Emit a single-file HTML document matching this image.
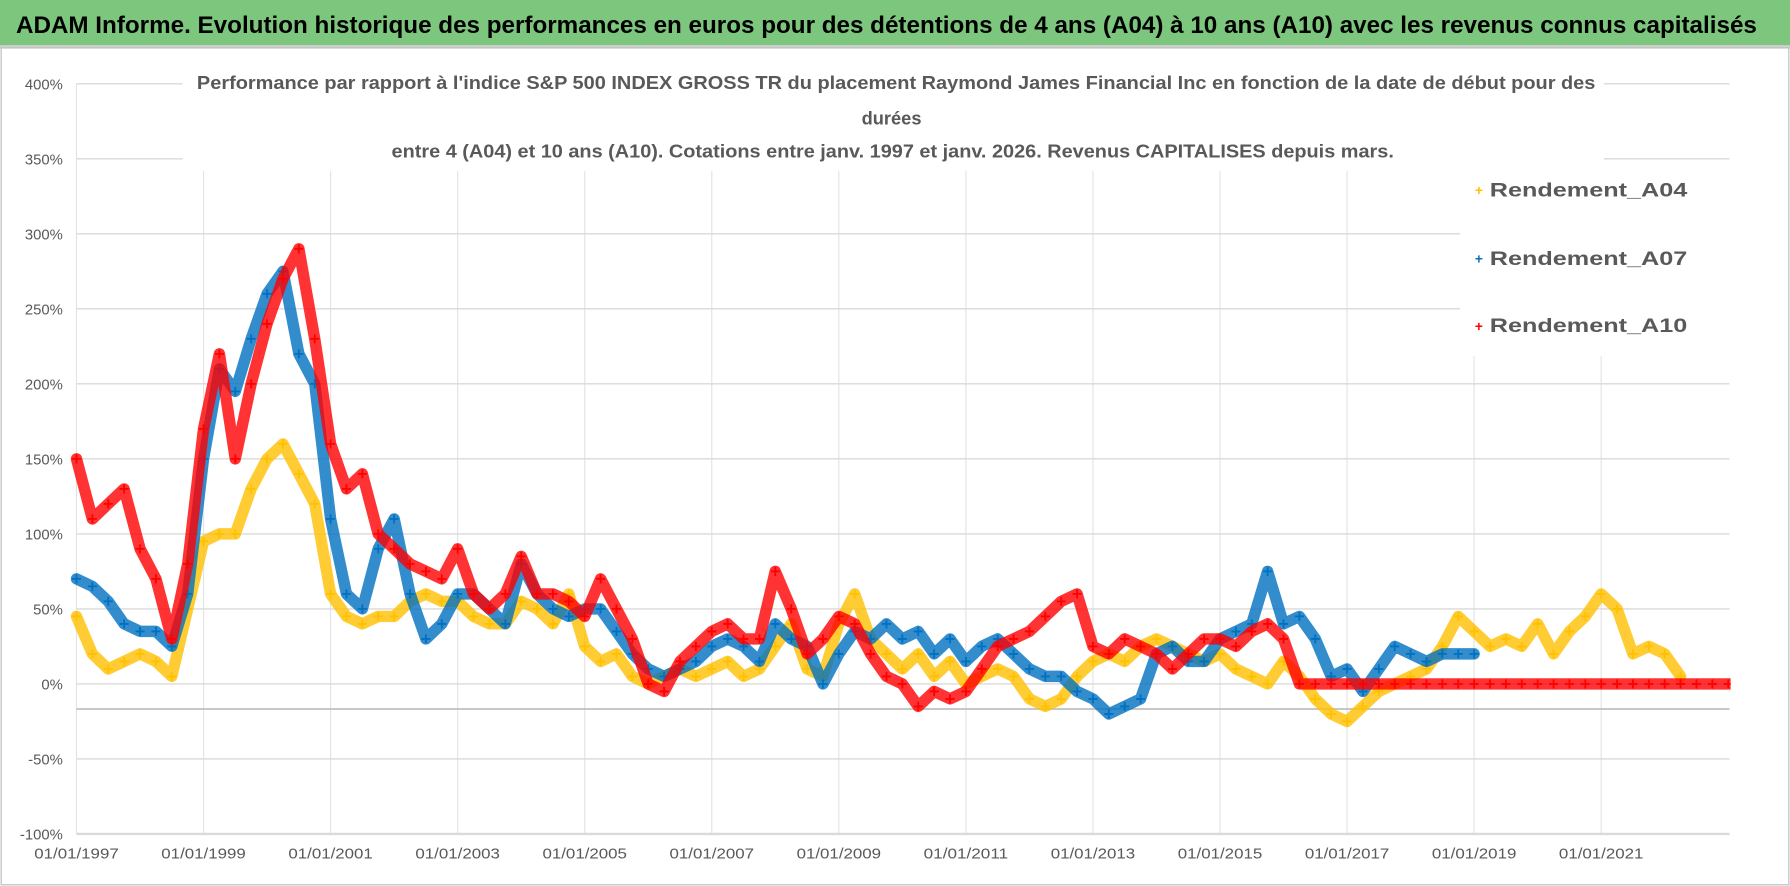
<!DOCTYPE html>
<html><head><meta charset="utf-8">
<style>
html,body{margin:0;padding:0;background:#fff;}
svg{display:block;font-family:"Liberation Sans",sans-serif;}
</style></head>
<body>
<svg id="chart" width="1790" height="886" viewBox="0 0 1568 776" preserveAspectRatio="none" xmlns="http://www.w3.org/2000/svg">
<defs><clipPath id="plotclip"><rect x="55" y="60" width="1461" height="680"/></clipPath></defs>
<rect x="0" y="0" width="1568" height="776" fill="#fff"/>
<rect x="0" y="0" width="1568" height="40" fill="#7dc67e"/>
<line x1="0" y1="41" x2="1568" y2="41" stroke="#d0d0d0" stroke-width="3"/>
<text x="14" y="29" font-size="21" font-weight="bold" fill="#000" textLength="1525" lengthAdjust="spacingAndGlyphs">ADAM Informe. Evolution historique des performances en euros pour des détentions de 4 ans (A04) à 10 ans (A10) avec les revenus connus capitalisés</text>
<rect x="1" y="42" width="1566" height="733" fill="none" stroke="#bbb" stroke-width="1"/>
<g id="grid"></g>
<g id="series" clip-path="url(#plotclip)"></g>
<g id="axes"></g>
<rect x="160" y="58" width="1245" height="92" fill="#fff"/>
<g font-size="16" font-weight="bold" fill="#595959" text-anchor="middle">
<text x="785" y="78" textLength="1225" lengthAdjust="spacingAndGlyphs">Performance par rapport à l'indice S&amp;P 500 INDEX GROSS TR  du placement Raymond James Financial Inc en fonction de la date de début pour des</text>
<text x="781" y="109">durées</text>
<text x="782" y="138" textLength="878" lengthAdjust="spacingAndGlyphs">entre 4 (A04) et 10 ans (A10). Cotations entre janv. 1997 et janv. 2026. Revenus CAPITALISES depuis mars.</text>
</g>
<rect x="1279" y="140" width="236" height="172" fill="#fff"/>
<g font-size="17" font-weight="bold" fill="#595959">
<g><text x="1292" y="171" fill="#ffc000" font-size="12">+</text><text x="1305" y="172" textLength="173" lengthAdjust="spacingAndGlyphs">Rendement_A04</text></g>
<g><text x="1292" y="231" fill="#0070c0" font-size="12">+</text><text x="1305" y="232" textLength="173" lengthAdjust="spacingAndGlyphs">Rendement_A07</text></g>
<g><text x="1292" y="290" fill="#ff0000" font-size="12">+</text><text x="1305" y="291" textLength="173" lengthAdjust="spacingAndGlyphs">Rendement_A10</text></g>
</g>
</svg>
<script>
const yTicks=[400,350,300,250,200,150,100,50,0,-50,-100];
const xTickYears=[1997,1999,2001,2003,2005,2007,2009,2011,2013,2015,2017,2019,2021];
const a04Start=1997, a07Start=1997, a10Start=1997;
const a04=[45,20,10,15,20,15,5,50,95,100,100,130,150,160,140,120,60,45,40,45,45,55,60,55,55,45,40,40,55,50,40,60,25,15,20,5,0,5,10,5,10,15,5,10,25,40,10,5,40,60,30,20,10,20,5,15,0,5,10,5,-10,-15,-10,5,15,20,15,25,30,25,20,15,20,10,5,0,15,5,-10,-20,-25,-15,-5,0,5,10,25,45,35,25,30,25,40,20,35,45,60,50,20,25,20,5];
const a07=[70,65,55,40,35,35,25,60,150,210,195,230,260,275,220,200,110,60,50,90,110,60,30,40,60,60,50,40,80,60,50,45,50,50,35,20,10,5,10,15,25,30,25,15,40,30,25,0,20,35,30,40,30,35,20,30,15,25,30,20,10,5,5,-5,-10,-20,-15,-10,20,25,15,15,30,35,40,75,40,45,30,5,10,-5,10,25,20,15,20,20,20];
const a10=[150,110,120,130,90,70,30,80,170,220,150,200,240,270,290,230,160,130,140,100,90,80,75,70,90,60,50,60,85,60,60,55,45,70,50,30,0,-5,15,25,35,40,30,30,75,50,20,30,45,40,20,5,0,-15,-5,-10,-5,10,25,30,35,45,55,60,25,20,30,25,20,10,20,30,30,25,35,40,30,0,0,0,0,0,0,0,0,0,0,0,0,0,0,0,0,0,0,0,0,0,0,0,0,0,0,0,0,0];
const NS='http://www.w3.org/2000/svg';
const X0=67,PX_YEAR=55.65,Y0=599,PX_PCT=65.7/50;
const xs=t=>X0+(t-1997)*PX_YEAR;
const ys=v=>Y0-v*PX_PCT;
function mk(tag,attrs,parent){const e=document.createElementNS(NS,tag);for(const k in attrs)e.setAttribute(k,attrs[k]);parent.appendChild(e);return e;}
const grid=document.getElementById('grid'),axes=document.getElementById('axes'),ser=document.getElementById('series');
xTickYears.forEach(y=>{
  const l=mk('line',{x1:xs(y),x2:xs(y),y1:ys(400),y2:ys(-100),stroke:'#e3e3e3','stroke-width':1},grid);
  
  
  const t=mk('text',{x:xs(y),y:752,'font-size':13,fill:'#595959','text-anchor':'middle',textLength:74,lengthAdjust:'spacingAndGlyphs'},axes);
  t.textContent='01/01/'+y;
  
  
});
yTicks.forEach(v=>{
  const l=mk('line',{x1:X0,x2:1515,y1:ys(v),y2:ys(v),stroke:'#dadada','stroke-width':v===-100?2:1.2},grid);
  
  
  const t=mk('text',{x:55,y:ys(v)+5,'font-size':13,fill:'#595959','text-anchor':'end'},axes);
  t.textContent=(v===0?'0':v)+'%';
  
  
});
const ax=mk('line',{x1:X0,x2:1515,y1:621,y2:621,stroke:'#bfbfbf','stroke-width':1.5},grid);


function drawSeries(vals,start,color,name){
  const g=mk('g',{},ser);
  
  
  const pts=vals.map((v,i)=>xs(start+i*0.25).toFixed(1)+','+ys(v).toFixed(1));
  const pl=mk('polyline',{points:pts.join(' '),fill:'none',stroke:color,'stroke-width':10,'stroke-opacity':0.8,'stroke-linejoin':'round','stroke-linecap':'round'},g);
  
  
  vals.forEach((v,i)=>{
    const x=xs(start+i*0.25),y=ys(v);
    const p=mk('path',{d:`M${x-4},${y}h8M${x},${y-4}v8`,stroke:color,'stroke-width':1.6},g);
    
    
  });
}
drawSeries(a04,a04Start,'#ffc000','series-a04');
drawSeries(a07,a07Start,'#0070c0','series-a07');
drawSeries(a10,a10Start,'#ff0000','series-a10');
</script>
</body></html>
